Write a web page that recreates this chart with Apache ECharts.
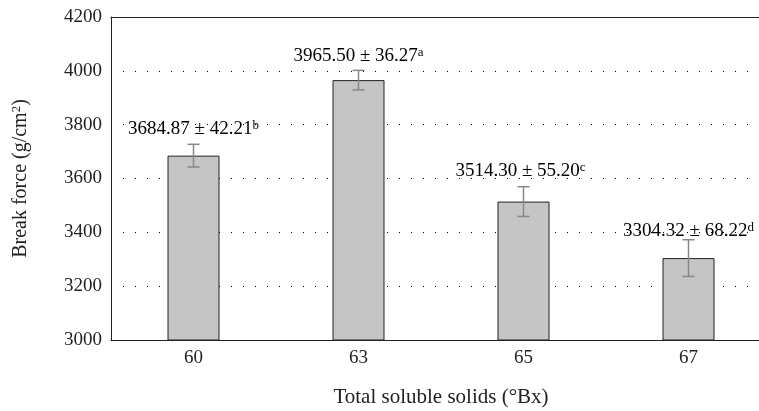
<!DOCTYPE html>
<html>
<head>
<meta charset="utf-8">
<script src="https://cdn.jsdelivr.net/npm/echarts@6/dist/echarts.min.js"></script>
<style>
html,body{margin:0;padding:0;background:#fff;}
#chart{width:759px;height:411px;}
</style>
</head>
<body>
<div id="chart"></div>
<script>
var categories = ['60', '63', '65', '67'];
var means = [3684.87, 3965.50, 3514.30, 3304.32];
var sds = [42.21, 36.27, 55.20, 68.22];
var letters = ['b', 'a', 'c', 'd'];
var yTicks = { min: 3000, max: 4200, interval: 200 };

// label styling: vertical gap (px) between error-bar top and label bottom
var labelGap = [5, 4, 6, -1];
var labelDx = [0, 0, -3, 0];

var FONT = '"Liberation Serif", "Times New Roman", serif';

var errData = categories.map(function (c, i) { return [i, means[i], sds[i]]; });

var chart = echarts.init(document.getElementById('chart'), null, { renderer: 'canvas' });
chart.setOption({
  animation: false,
  backgroundColor: '#fff',
  grid: { left: 111, top: 17, width: 660, height: 323, outerBoundsMode: 'none', containLabel: false, show: false },
  xAxis: [{
    type: 'category',
    data: categories,
    axisLine: { show: true, lineStyle: { color: '#222', width: 1 } },
    axisTick: { show: false },
    axisLabel: { color: '#222', fontFamily: FONT, fontSize: 19, margin: 9 },
    name: 'Total soluble solids (°Bx)',
    nameLocation: 'middle',
    nameGap: 47,
    nameTextStyle: { color: '#222', fontFamily: FONT, fontSize: 21 },
    splitLine: { show: false }
  }, {
    type: 'category',
    data: categories,
    position: 'top',
    axisLine: { show: true, lineStyle: { color: '#222', width: 1 } },
    axisTick: { show: false },
    axisLabel: { show: false },
    splitLine: { show: false }
  }],
  yAxis: {
    type: 'value',
    min: yTicks.min, max: yTicks.max, interval: yTicks.interval,
    axisLine: { show: true, lineStyle: { color: '#222', width: 1 } },
    axisTick: { show: false },
    axisLabel: { color: '#222', fontFamily: FONT, fontSize: 19, margin: 9, formatter: function (v) { return String(v); } },
    splitLine: { show: true, lineStyle: { color: '#000', type: [1, 11], width: 1 } },
    name: '{n|Break force (g/cm}{s|2}{n|)}',
    nameLocation: 'middle',
    nameGap: 79,
    nameTextStyle: {
      color: '#222', fontFamily: FONT, fontSize: 20,
      rich: {
        n: { fontFamily: FONT, fontSize: 20, color: '#222', lineHeight: 22 },
        s: { fontFamily: FONT, fontSize: 13, color: '#222', verticalAlign: 'top', lineHeight: 22 }
      }
    }
  },
  series: [
    {
      type: 'bar',
      data: means,
      barWidth: 52,
      itemStyle: { color: '#c4c5c4', borderColor: '#222', borderWidth: 1 },
      z: 2
    },
    {
      type: 'custom',
      data: errData,
      z: 3,
      renderItem: function (params, api) {
        var idx = api.value(0), m = api.value(1), s = api.value(2);
        var top = api.coord([idx, m + s]);
        var bot = api.coord([idx, m - s]);
        var hw = 6;
        var i = params.dataIndex;
        var lineStyle = { stroke: '#888', lineWidth: 1.5 };
        return {
          type: 'group',
          children: [
            { type: 'line', shape: { x1: top[0], y1: top[1], x2: bot[0], y2: bot[1] }, style: lineStyle },
            { type: 'line', shape: { x1: top[0] - hw, y1: top[1], x2: top[0] + hw, y2: top[1] }, style: lineStyle },
            { type: 'line', shape: { x1: bot[0] - hw, y1: bot[1], x2: bot[0] + hw, y2: bot[1] }, style: lineStyle },
            {
              type: 'text',
              x: top[0] + labelDx[i],
              y: top[1] - labelGap[i],
              style: {
                text: '{n|' + means[i].toFixed(2) + ' ± ' + sds[i].toFixed(2) + '}{s|' + letters[i] + '}',
                align: 'center',
                verticalAlign: 'bottom',
                rich: {
                  n: { fontFamily: FONT, fontSize: 19, color: '#222', lineHeight: 20 },
                  s: { fontFamily: FONT, fontSize: 13, color: '#222', verticalAlign: 'top', lineHeight: 20 }
                }
              }
            }
          ]
        };
      }
    }
  ]
});
</script>
</body>
</html>
